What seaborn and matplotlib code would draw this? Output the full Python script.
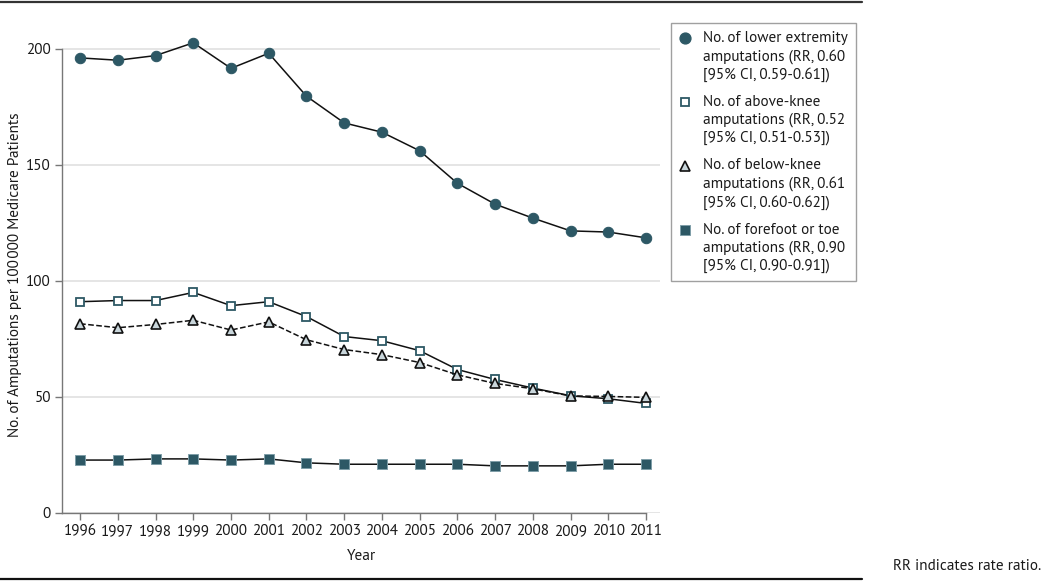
import matplotlib
matplotlib.use("Agg")
import matplotlib.pyplot as plt
from matplotlib.lines import Line2D
from matplotlib.legend_handler import HandlerLine2D
import seaborn as sns
import numpy as np

years = list(range(1996, 2012))
lower_extremity = [196, 195, 197, 202.5, 191.5, 198, 179.5, 168, 164, 156, 142, 133, 127, 121.5, 121, 118.5]
above_knee = [91, 91.5, 91.5, 95, 89.3, 91, 84.6, 76, 74.2, 69.9, 61.8, 57.5, 53.8, 50.5, 49.2, 47.2]
below_knee = [81.5, 79.8, 81.2, 83, 78.8, 82.3, 74.6, 70.4, 68.2, 64.8, 59.5, 55.8, 53.5, 50.4, 50.2, 49.8]
forefoot = [22.8, 22.8, 23.3, 23.3, 22.8, 23.3, 21.6, 21, 21, 21, 21, 20.3, 20.3, 20.3, 21, 21]
y_ticks = [0, 50, 100, 150, 200]

labels = [
    "No. of lower extremity\namputations (RR, 0.60\n[95% CI, 0.59-0.61])",
    "No. of above-knee\namputations (RR, 0.52\n[95% CI, 0.51-0.53])",
    "No. of below-knee\namputations (RR, 0.61\n[95% CI, 0.60-0.62])",
    "No. of forefoot or toe\namputations (RR, 0.90\n[95% CI, 0.90-0.91])",
]

sns.set_theme(style="white")
plt.rcParams['font.family'] = ['PT Sans', 'Source Sans 3', 'Lato', 'DejaVu Sans']
FS = 11
teal = "#2d5865"
light = "#c9d6db"
txt = "#1a1a1a"

fig = plt.figure(figsize=(10.5, 5.82), dpi=100)
W, H = 1050, 582
ax = fig.add_axes([62 / W, 1 - 513 / H, (660 - 62) / W, (513 - 37) / H])

common = dict(ax=ax, legend=False, linewidth=1.1, color="#111111")
sns.lineplot(x=years, y=lower_extremity, marker="o", markersize=7.5,
             markerfacecolor=teal, markeredgecolor=teal, zorder=3, **common)
sns.lineplot(x=years, y=above_knee, marker="s", markersize=6.3,
             markerfacecolor="white", markeredgecolor=teal, markeredgewidth=1.3, zorder=3, **common)
sns.lineplot(x=years, y=below_knee, marker="^", markersize=7.5, linestyle="--",
             markerfacecolor=light, markeredgecolor="#111111", markeredgewidth=1.2, zorder=4, **common)
sns.lineplot(x=years, y=forefoot, marker="s", markersize=6.5,
             markerfacecolor=teal, markeredgecolor="#7f9ea8", markeredgewidth=0.7, zorder=3, **common)

ax.set_xlim(1995.52, 2011.37)
ax.set_ylim(0, 205)
ax.set_yticks(y_ticks)
ax.set_xticks(years)
ax.set_xticklabels([str(y) for y in years], fontsize=FS, color=txt)
ax.set_yticklabels([str(v) for v in y_ticks], fontsize=FS, color=txt)
ax.yaxis.grid(True, color="#e3e3e3", linewidth=1.3)
ax.xaxis.grid(False)
ax.set_axisbelow(True)
for s in ["top", "right"]:
    ax.spines[s].set_visible(False)
for s in ["left", "bottom"]:
    ax.spines[s].set_color("#777777")
    ax.spines[s].set_linewidth(1.0)
ax.spines["left"].set_bounds(0, 200)
ax.spines["bottom"].set_bounds(1995.52, 2011)
ax.tick_params(axis="both", which="both", length=5, width=1.0, color="#777777", pad=3,
               bottom=True, left=True)
ax.set_xlabel("Year", fontsize=FS, color=txt, labelpad=8)
ax.set_ylabel("No. of Amputations per 100\u2009000 Medicare Patients", fontsize=FS,
              color=txt, labelpad=3)


class TopHandler(HandlerLine2D):
    def __init__(self, shift, **kw):
        super().__init__(**kw)
        self.shift = shift

    def create_artists(self, legend, orig_handle, xdescent, ydescent, width, height, fontsize, trans):
        arts = super().create_artists(legend, orig_handle, xdescent, ydescent, width, height, fontsize, trans)
        for a in arts:
            y = np.asarray(a.get_ydata(), dtype=float)
            a.set_ydata(y + self.shift)
        return arts


handles = [
    Line2D([], [], linestyle="none", marker="o", markersize=7.8, markerfacecolor=teal, markeredgecolor=teal),
    Line2D([], [], linestyle="none", marker="s", markersize=6.3, markerfacecolor="white",
           markeredgecolor=teal, markeredgewidth=1.3),
    Line2D([], [], linestyle="none", marker="^", markersize=7.5, markerfacecolor=light,
           markeredgecolor="#111111", markeredgewidth=1.2),
    Line2D([], [], linestyle="none", marker="s", markersize=6.5, markerfacecolor=teal,
           markeredgecolor="#7f9ea8", markeredgewidth=0.7),
]
LS = 1.32
hmap = {h: TopHandler(13.3) for h in handles}
leg = fig.legend(handles, labels, loc="upper left", bbox_to_anchor=(671 / W, 1 - 23 / H),
                 fontsize=FS, frameon=True, fancybox=False, edgecolor="#888888",
                 handlelength=0.8, handletextpad=0.8, labelspacing=0.85,
                 borderpad=0.52, borderaxespad=0, handler_map=hmap)
leg.get_frame().set_linewidth(1.0)
for t in leg.get_texts():
    t.set_linespacing(LS)
    t.set_color(txt)

fig.add_artist(Line2D([0, 862 / W], [1 - 1.5 / H, 1 - 1.5 / H], color="#333333", linewidth=1.6))
fig.add_artist(Line2D([0, 862 / W], [1 - 579 / H, 1 - 579 / H], color="#111111", linewidth=1.6))
fig.text(893 / W, 1 - 566 / H, "RR indicates rate ratio.", fontsize=FS, color=txt,
         ha="left", va="center")

fig.savefig("out.png", dpi=100)
